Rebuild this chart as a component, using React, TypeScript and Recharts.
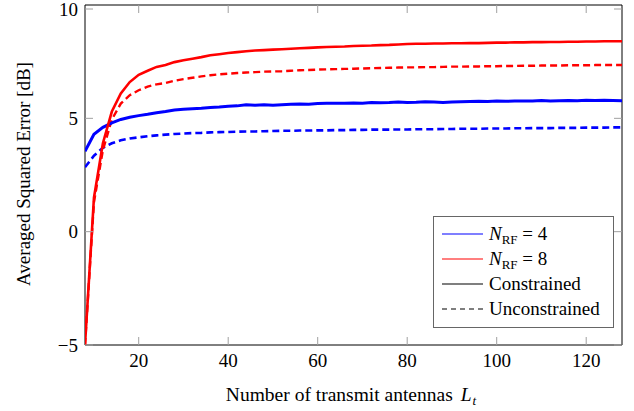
import { LineChart, Line, XAxis, YAxis, ReferenceArea, Legend } from "recharts";

// antennas L_t
const LT = [
  8, 10, 12, 14, 16, 18, 20, 22, 24, 26, 28, 30, 32, 34, 36, 38, 40, 42, 44, 46, 48,
  50, 52, 54, 56, 58, 60, 62, 64, 66, 68, 70, 72, 74, 76, 78, 80, 82, 84, 86, 88, 90,
  92, 94, 96, 98, 100, 102, 104, 106, 108, 110, 112, 114, 116, 118, 120, 122, 124, 126, 128,
];

// N_RF = 4, constrained
const CON_4 = [
  3.55, 4.3, 4.6, 4.8, 4.95, 5.05, 5.12, 5.18, 5.25, 5.3, 5.37, 5.4, 5.42, 5.44, 5.48, 5.5, 5.53,
  5.55, 5.6, 5.58, 5.6, 5.58, 5.6, 5.62, 5.63, 5.62, 5.65, 5.66, 5.66, 5.67, 5.68, 5.67, 5.7,
  5.69, 5.7, 5.72, 5.7, 5.71, 5.73, 5.72, 5.7, 5.72, 5.73, 5.74, 5.75, 5.74, 5.76, 5.75, 5.76,
  5.77, 5.77, 5.79, 5.77, 5.78, 5.79, 5.78, 5.8, 5.79, 5.8, 5.79, 5.78,
];

// N_RF = 4, unconstrained
const UNC_4 = [
  2.84, 3.35, 3.7, 3.9, 4.03, 4.11, 4.16, 4.21, 4.25, 4.28, 4.31, 4.33, 4.35, 4.36, 4.38, 4.39,
  4.4, 4.41, 4.42, 4.42, 4.43, 4.44, 4.45, 4.45, 4.46, 4.46, 4.47, 4.47, 4.48, 4.48, 4.49, 4.49,
  4.5, 4.5, 4.5, 4.51, 4.51, 4.52, 4.52, 4.52, 4.53, 4.53, 4.54, 4.54, 4.54, 4.55, 4.55, 4.55,
  4.56, 4.56, 4.57, 4.57, 4.57, 4.58, 4.58, 4.58, 4.59, 4.59, 4.59, 4.6, 4.6,
];

// N_RF = 8, constrained
const CON_8 = [
  -5, 1.5, 3.9, 5.3, 6.1, 6.6, 6.92, 7.1, 7.27, 7.35, 7.48, 7.56, 7.63, 7.7, 7.78, 7.83, 7.88,
  7.92, 7.96, 7.99, 8.01, 8.03, 8.05, 8.07, 8.09, 8.11, 8.13, 8.15, 8.16, 8.17, 8.19, 8.2, 8.21,
  8.23, 8.24, 8.26, 8.28, 8.29, 8.29, 8.3, 8.3, 8.31, 8.31, 8.32, 8.32, 8.33, 8.34, 8.34, 8.35,
  8.35, 8.36, 8.36, 8.37, 8.37, 8.38, 8.38, 8.39, 8.39, 8.4, 8.4, 8.4,
];

// N_RF = 8, unconstrained
const UNC_8 = [
  -5, 1.3, 3.6, 4.95, 5.65, 6.02, 6.24, 6.4, 6.5, 6.56, 6.66, 6.73, 6.79, 6.85, 6.9, 6.94, 6.97,
  7.0, 7.02, 7.04, 7.06, 7.07, 7.08, 7.1, 7.12, 7.13, 7.15, 7.16, 7.17, 7.18, 7.19, 7.2, 7.21,
  7.22, 7.23, 7.24, 7.25, 7.25, 7.26, 7.26, 7.27, 7.28, 7.28, 7.29, 7.29, 7.3, 7.3, 7.31, 7.31,
  7.32, 7.32, 7.33, 7.33, 7.33, 7.34, 7.34, 7.34, 7.35, 7.35, 7.35, 7.35,
];

const X_TICKS = [20, 40, 60, 80, 100, 120];
const Y_TICKS = [-5, 0, 5, 10];

const data = LT.map((x, i) => ({
  x,
  con4: CON_4[i],
  unc4: UNC_4[i],
  con8: CON_8[i],
  unc8: UNC_8[i],
}));

const FONT = "Liberation Serif";
const FS = 19;
const PLOT_TOP = 5;
const PLOT_BOTTOM = 345;
const PLOT_LEFT = 85;
const PLOT_RIGHT = 622;
const TICK_LEN = 8;
const TICK_COLOR = "#a0a0a0";

const fmt = (v: number) => (v < 0 ? `\u2212${Math.abs(v)}` : String(v));

const XTick = (props: any) => {
  const { x, payload } = props;
  return (
    <g>
      <line x1={x} x2={x} y1={PLOT_BOTTOM} y2={PLOT_BOTTOM - TICK_LEN} stroke={TICK_COLOR} />
      <line x1={x} x2={x} y1={PLOT_TOP} y2={PLOT_TOP + TICK_LEN} stroke={TICK_COLOR} />
      <text x={x} y={PLOT_BOTTOM + 22} textAnchor="middle" fontSize={FS} fill="#000" fontFamily={FONT}>
        {fmt(payload.value)}
      </text>
    </g>
  );
};

const YTick = (props: any) => {
  const { y, payload } = props;
  return (
    <g>
      <line x1={PLOT_LEFT} x2={PLOT_LEFT + TICK_LEN} y1={y} y2={y} stroke={TICK_COLOR} />
      <line x1={PLOT_RIGHT} x2={PLOT_RIGHT - TICK_LEN} y1={y} y2={y} stroke={TICK_COLOR} />
      <text x={PLOT_LEFT - 7} y={y + 6.5} textAnchor="end" fontSize={FS} fill="#000" fontFamily={FONT}>
        {fmt(payload.value)}
      </text>
    </g>
  );
};

const LEGEND_ITEMS = [
  { color: "#0000ff", dash: undefined, label: "4", math: true },
  { color: "#ff0000", dash: undefined, label: "8", math: true },
  { color: "#000", dash: undefined, label: "Constrained", math: false },
  { color: "#000", dash: "5 4", label: "Unconstrained", math: false },
];

const LegendBox = () => (
  <div
    style={{
      width: 179,
      height: 106,
      border: "1px solid #666",
      background: "#fff",
      fontFamily: FONT,
      fontSize: FS,
      color: "#000",
      boxSizing: "content-box",
      paddingTop: 4,
      lineHeight: 1,
    }}
  >
    {LEGEND_ITEMS.map((it) => (
      <div key={it.label + it.color} style={{ display: "flex", alignItems: "center", height: 25 }}>
        <svg width={48} height={10} style={{ marginLeft: 7, flexShrink: 0 }}>
          <line x1={1} x2={42} y1={5} y2={5} stroke={it.color} strokeWidth={1.2} strokeDasharray={it.dash} />
        </svg>
        {it.math ? (
          <span style={{ whiteSpace: "nowrap" }}>
            <i>N</i>
            <span style={{ fontSize: 13, position: "relative", top: 4 }}>RF</span>
            {" = "}
            {it.label}
          </span>
        ) : (
          <span>{it.label}</span>
        )}
      </div>
    ))}
  </div>
);

export default function App() {
  return (
    <div style={{ position: "absolute", left: 0, top: 0, background: "#fff" }}>
      <LineChart
        width={634}
        height={411}
        data={data}
        margin={{ top: PLOT_TOP, right: 634 - PLOT_RIGHT, bottom: 0, left: 0 }}
      >
        <XAxis
          dataKey="x"
          type="number"
          domain={[8, 128]}
          ticks={X_TICKS}
          allowDataOverflow
          height={411 - PLOT_BOTTOM}
          axisLine={false}
          tickLine={false}
          tickSize={0}
          tick={<XTick />}
          label={() => (
            <text x={351} y={401} textAnchor="middle" fontSize={19.5} fontFamily={FONT} fill="#000">
              Number of transmit antennas <tspan fontStyle="italic" dx={3}>L</tspan>
              <tspan fontStyle="italic" fontSize={13} dy={4} dx={1}>t</tspan>
            </text>
          )}
        />
        <YAxis
          type="number"
          domain={[-5, 10]}
          ticks={Y_TICKS}
          allowDataOverflow
          width={PLOT_LEFT}
          axisLine={false}
          tickLine={false}
          tickSize={0}
          tick={<YTick />}
          label={() => (
            <text
              x={23}
              y={174}
              transform="rotate(-90 23 174)"
              textAnchor="middle"
              dominantBaseline="central"
              fontSize={FS}
              fontFamily={FONT}
              fill="#000"
            >
              Averaged Squared Error [dB]
            </text>
          )}
        />
        <ReferenceArea x1={8} x2={128} y1={-5} y2={10} fill="none" stroke="#000" strokeWidth={1} ifOverflow="visible" />
        <Line dataKey="unc4" stroke="#0000ff" strokeWidth={2.6} strokeDasharray="7 4" dot={false} isAnimationActive={false} />
        <Line dataKey="unc8" stroke="#ff0000" strokeWidth={2.4} strokeDasharray="7 4" dot={false} isAnimationActive={false} />
        <Line dataKey="con4" stroke="#0000ff" strokeWidth={3} dot={false} isAnimationActive={false} />
        <Line dataKey="con8" stroke="#ff0000" strokeWidth={2.6} dot={false} isAnimationActive={false} />
        <Legend
          layout="vertical"
          align="center"
          verticalAlign="middle"
          content={<LegendBox />}
          wrapperStyle={{ left: 433, top: 216, width: 181, height: 112 }}
        />
      </LineChart>
    </div>
  );
}
